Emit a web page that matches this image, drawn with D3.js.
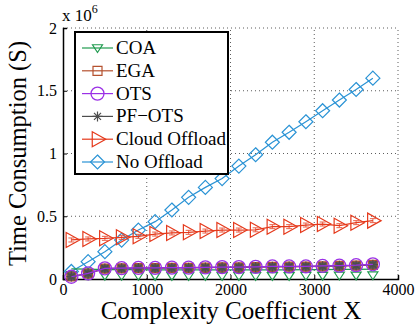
<!DOCTYPE html>
<html><head><meta charset="utf-8">
<script src="https://cdn.jsdelivr.net/npm/d3@7"></script>
<style>body{margin:0;background:#fff}svg{display:block}</style>
</head><body><div id="chart"></div>
<script>
const xValues = [100,300,500,700,900,1100,1300,1500,1700,1900,2100,2300,2500,2700,2900,3100,3300,3500,3700];
const coa = [0.080,0.078,0.075,0.074,0.074,0.073,0.073,0.072,0.072,0.072,0.072,0.072,0.073,0.073,0.074,0.075,0.076,0.077,0.078];
const ega = [0.020,0.044,0.083,0.085,0.086,0.087,0.088,0.089,0.090,0.092,0.092,0.094,0.096,0.098,0.099,0.101,0.104,0.107,0.112];
const ots = [0.018,0.045,0.085,0.086,0.088,0.088,0.090,0.090,0.093,0.095,0.095,0.097,0.100,0.100,0.100,0.104,0.106,0.110,0.117];
const pfots = [0.019,0.044,0.084,0.085,0.087,0.088,0.089,0.090,0.092,0.093,0.094,0.096,0.098,0.099,0.100,0.102,0.105,0.108,0.114];
const cloud = [0.311,0.319,0.324,0.332,0.340,0.358,0.367,0.372,0.382,0.390,0.390,0.392,0.417,0.417,0.430,0.438,0.425,0.449,0.465];
const noOffload = [0.060,0.138,0.218,0.310,0.390,0.457,0.550,0.651,0.730,0.800,0.900,0.990,1.090,1.169,1.253,1.341,1.426,1.510,1.600];
const seriesNames = ["COA","EGA","OTS","PF\u2212OTS","Cloud Offload","No Offload"];
const xTicks = [0,1000,2000,3000,4000];
const yTicks = [0,0.5,1,1.5,2];
const yTickLabels = ["0","0.5","1","1.5","2"];
const scaleLabel = "x 10";
const scaleExp = "6";
const xTitle = "Complexity Coefficient X";
const yTitle = "Time Consumption (S)";

const FONT = "'Liberation Serif', 'Times New Roman', Times, serif";
const W = 417, H = 327;
const m = {l:63, r:19, t:28, b:48};
const svg = d3.select("#chart").append("svg").attr("width",W).attr("height",H)
  .attr("font-family",FONT).style("font-family",FONT);
const x = d3.scaleLinear().domain([0,4000]).range([m.l, W-m.r]);
const y = d3.scaleLinear().domain([0,2]).range([H-m.b, m.t]);

// grid
const g = svg.append("g");
g.selectAll(".gx").data(xTicks.slice(1)).join("line")
  .attr("x1",d=>x(d)).attr("x2",d=>x(d)).attr("y1",y(0)).attr("y2",y(2))
  .attr("stroke","#333").attr("stroke-width",0.8).attr("stroke-dasharray","1,3");
g.selectAll(".gy").data(yTicks.slice(1)).join("line")
  .attr("x1",x(0)).attr("x2",x(4000)).attr("y1",d=>y(d)).attr("y2",d=>y(d))
  .attr("stroke","#333").attr("stroke-width",0.8).attr("stroke-dasharray","1,3");

// axes
const xAxis = d3.axisBottom(x).tickValues(xTicks).tickSize(-4).tickPadding(5).tickFormat(d3.format("d"));
const yAxis = d3.axisLeft(y).tickValues(yTicks).tickSize(-4).tickPadding(6).tickFormat((d,i)=>yTickLabels[i]);
const gx = svg.append("g").attr("transform",`translate(0,${y(0)})`).call(xAxis);
const gy = svg.append("g").attr("transform",`translate(${x(0)},0)`).call(yAxis);
[gx,gy].forEach(a=>{
  a.attr("font-family",FONT);
  a.select(".domain").attr("stroke","#000").attr("stroke-width",1.5);
  a.selectAll(".tick line").attr("stroke","#000");
  a.selectAll(".tick text").attr("font-size",16).attr("fill","#000").style("font-family",FONT);
});

const sym = {
  triDown: s => `M${-s},${-s*0.45} L${s},${-s*0.45} L0,${s*1.1} Z`,
  square: s => `M${-s},${-s} H${s} V${s} H${-s} Z`,
  triRight: s => `M${-s*0.7},${-s} L${s*1.1},0 L${-s*0.7},${s} Z`,
  diamond: s => `M0,${-s} L${s},0 L0,${s} L${-s},0 Z`,
  star: s => `M${-s},0 H${s} M0,${-s} V${s} M${-s*0.7},${-s*0.7} L${s*0.7},${s*0.7} M${-s*0.7},${s*0.7} L${s*0.7},${-s*0.7}`
};

const series = [
  {name:seriesNames[0], vals:coa, color:"#1f9a4e", marker:"triDown", size:5, dy:5},
  {name:seriesNames[1], vals:ega, color:"#b5512f", marker:"square", size:4.5, dy:0},
  {name:seriesNames[2], vals:ots, color:"#9b30e6", marker:"circle", size:6.5, dy:0},
  {name:seriesNames[3], vals:pfots, color:"#4d4d4d", marker:"star", size:5, dy:0},
  {name:seriesNames[4], vals:cloud, color:"#e5391b", marker:"triRight", size:7.5, dy:0},
  {name:seriesNames[5], vals:noOffload, color:"#2a93d5", marker:"diamond", size:7, dy:0}
];

function drawMarker(sel, s, cx, cy, dy, legend){
  if(s.marker==="circle"){
    sel.append("circle").attr("cx",cx).attr("cy",cy).attr("r",s.size)
      .attr("fill","none").attr("stroke",s.color).attr("stroke-width",1.3);
  } else {
    sel.append("path").attr("d",sym[s.marker](s.size))
      .attr("transform",`translate(${cx},${cy+dy})`)
      .attr("fill", (s.marker==="square" && !legend) ? "#5a5a5a" : "none")
      .attr("stroke",s.color).attr("stroke-width",1.2);
  }
}

const line = d3.line().x((d,i)=>x(xValues[i])).y(d=>y(d));
const plot = svg.append("g");
const order = [5,4,0,1,3,2];
order.forEach(k=>{
  const s = series[k];
  const gg = plot.append("g");
  gg.append("path").datum(s.vals).attr("d",line).attr("fill","none")
    .attr("stroke",s.color).attr("stroke-width",1.2);
  s.vals.forEach((v,i)=>{
    if(k===4||k===3){
      const cx=x(xValues[i]), cy=y(v);
      gg.append("path").attr("d",`M${cx-3},${cy-2} H${cx+3} M${cx},${cy-2} V${cy+2} M${cx-3},${cy+2} H${cx+3}`)
        .attr("stroke",s.color).attr("stroke-width",1).attr("opacity",0.8);
    }
    drawMarker(gg, s, x(xValues[i]), y(v), s.dy, false);
  });
});

// scale label
const sl = svg.append("text").attr("x",62).attr("y",21).attr("font-size",17).attr("fill","#000").style("font-family",FONT);
sl.append("tspan").text(scaleLabel);
sl.append("tspan").attr("dy",-8).attr("font-size",12).text(scaleExp);

// titles
svg.append("text").attr("x",231).attr("y",319).attr("text-anchor","middle")
  .attr("font-size",25).attr("fill","#000").style("font-family",FONT).text(xTitle);
svg.append("text").attr("transform",`translate(26,${(y(0)+y(2))/2}) rotate(-90)`).attr("text-anchor","middle")
  .attr("font-size",24.5).attr("fill","#000").style("font-family",FONT).text(yTitle);

// legend
const lg = svg.append("g");
lg.append("rect").attr("x",75).attr("y",32).attr("width",153).attr("height",142)
  .attr("fill","#fff").attr("stroke","#000").attr("stroke-width",2);
series.forEach((s,i)=>{
  const ly = 48 + i*22.8;
  lg.append("line").attr("x1",82).attr("x2",113).attr("y1",ly).attr("y2",ly)
    .attr("stroke",s.color).attr("stroke-width",1.2);
  drawMarker(lg, s, 97.5, ly, s.marker==="triDown"?-1:0, true);
  lg.append("text").attr("x",116).attr("y",ly+6).attr("font-size",19).attr("fill","#000").style("font-family",FONT).text(s.name);
});
</script></body></html>
